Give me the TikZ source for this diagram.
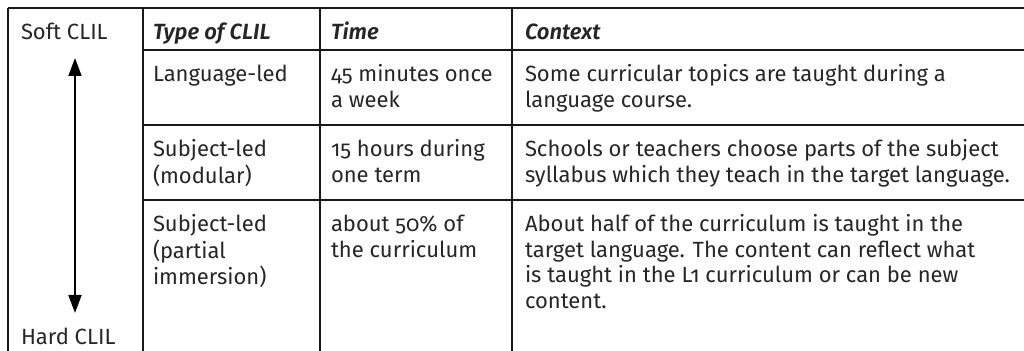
\documentclass[tikz,border=0pt]{standalone}
\usepackage{fontspec}
\setmainfont{Fira Sans}[Numbers=OldStyle]
\newfontface\headfont{Fira Sans SemiBold Italic}[Numbers=OldStyle]
\usetikzlibrary{arrows.meta}
\newcommand\cellrows[1]{\begin{tabular}[t]{@{}l@{}}#1\end{tabular}}
\begin{document}
\begin{tikzpicture}[x=0.5pt,y=-0.5pt,
  gridv/.style={line width=1pt,draw=black!90},
  gridh/.style={line width=0.7pt,draw=black!90},
  txt/.style={anchor=base west,inner sep=0pt,outer sep=0pt,text=black!85,
    font=\fontsize{11}{12.75}\selectfont},
  head/.style={txt,font=\fontsize{11}{12.75}\selectfont\headfont},
  scale arrow/.style={line width=0.9pt,{Triangle[length=9pt,width=6.5pt]}-{Triangle[length=9pt,width=6.5pt]}}]
\useasboundingbox (0,0) rectangle (1024,351);
% grid
\coordinate (tl) at (8,8);
\coordinate (tr) at (1024,8);
\coordinate (bl) at (8,351);
\draw[gridh] (tl) -- (tr);
\draw[gridv] (tl) -- (bl);
\foreach \x/\n in {142.5/a,320/b,511.5/c}{
  \coordinate (\n top) at (\x,8);
  \coordinate (\n bot) at (\x,351);
  \draw[gridv] (\n top) -- (\n bot);
}
\foreach \y/\n in {50/r1,125/r2,200/r3}{
  \coordinate (\n l) at (142.5,\y);
  \coordinate (\n r) at (1024,\y);
  \draw[gridh] (\n l) -- (\n r);
}
% scale column
\node[txt] (soft) at (21,40) {Soft CLIL};
\node[txt] (hard) at (21,345) {Hard CLIL};
\coordinate (up) at (75,58);
\coordinate (down) at (75,313);
\draw[scale arrow] (up) -- (down);
% header
\node[head] (h1) at (153,40) {Type of CLIL};
\node[head] (h2) at (331,40) {Time};
\node[head] (h3) at (525,40) {Context};
% row 1
\node[txt] (t1) at (153,82) {\cellrows{Language-led}};
\node[txt] (m1) at (331,82) {\cellrows{45 minutes once\\a week}};
\node[txt] (c1) at (525,82) {\cellrows{Some curricular topics are taught during a\\language course.}};
% row 2
\node[txt] (t2) at (153,157) {\cellrows{Subject-led\\(modular)}};
\node[txt] (m2) at (331,157) {\cellrows{15 hours during\\one term}};
\node[txt] (c2) at (525,157) {\cellrows{Schools or teachers choose parts of the subject\\syllabus which they teach in the target language.}};
% row 3
\node[txt] (t3) at (153,232) {\cellrows{Subject-led\\(partial\\immersion)}};
\node[txt] (m3) at (331,232) {\cellrows{about 50\% of\\the curriculum}};
\node[txt] (c3) at (525,232) {\cellrows{About half of the curriculum is taught in the\\target language. The content can reflect what\\is taught in the L1 curriculum or can be new\\content.}};
\end{tikzpicture}
\end{document}
